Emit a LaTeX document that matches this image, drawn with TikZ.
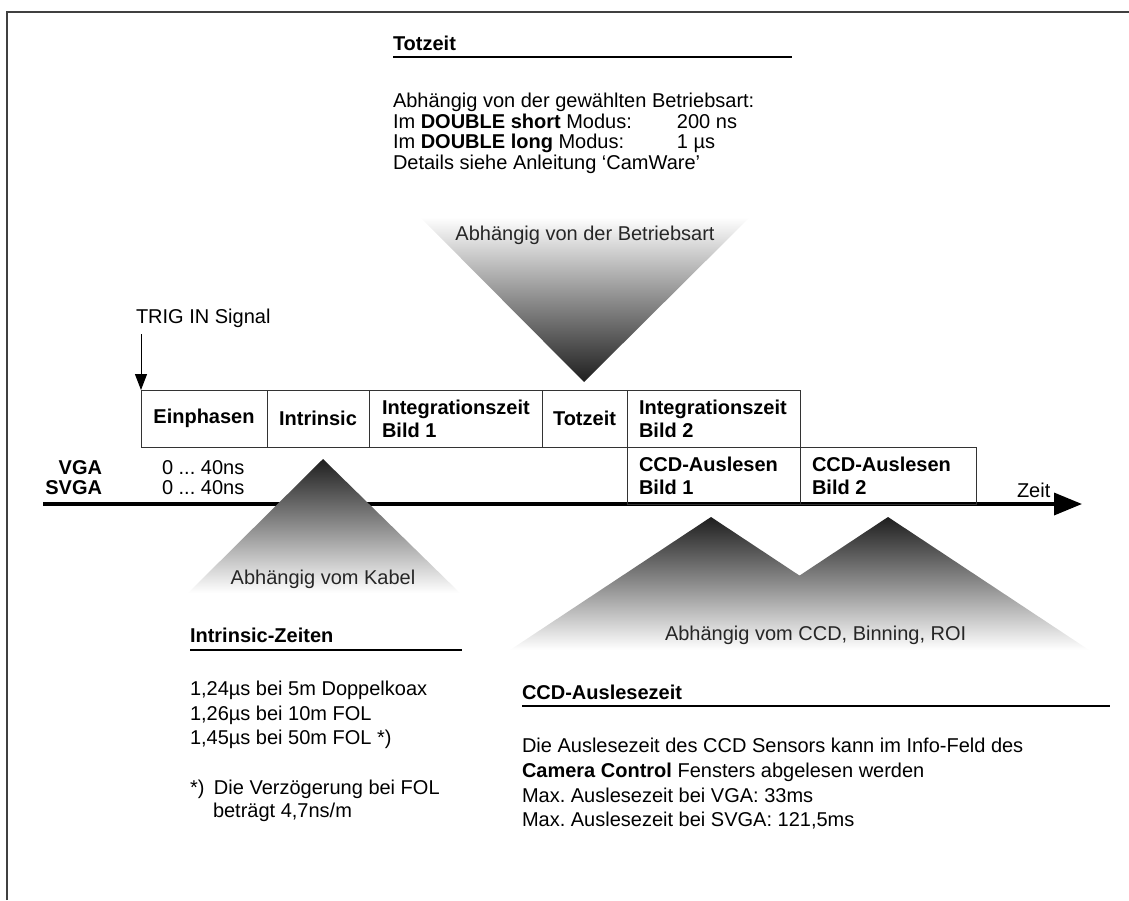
\documentclass[tikz,border=0pt]{standalone}
\usepackage{fontspec}
\setmainfont{Liberation Sans}
\usetikzlibrary{arrows.meta}
\frenchspacing
\begin{document}
\begin{tikzpicture}[x=1pt,y=-1pt,
  every node/.style={inner sep=0pt, outer sep=0pt, font=\fontsize{20}{24}\selectfont},
  txt/.style={anchor=base west},
  btxt/.style={anchor=base west, font=\fontsize{20}{24}\selectfont\bfseries},
  cell/.style={draw=black!80, line width=1pt, rectangle, minimum height=57pt},
  celltxt/.style={font=\fontsize{20}{23}\selectfont\bfseries, align=left, anchor=west},
  rulebar/.style={line width=2.5pt, black},
  framebar/.style={line width=2pt, black!75},
  trilabel/.style={anchor=base, text=black!85},
  upshade/.style={top color=black!88, bottom color=white, middle color=black!45},
  downshade/.style={top color=white, bottom color=black!88, middle color=black!45}
]
\useasboundingbox (0,0) rectangle (1129,900);

% frame
\draw[framebar] (7,900) -- (7,12) -- (1129,12);

% Totzeit block
\node[btxt] (tzhead) at (393,50) {Totzeit};
\draw[rulebar] (393,57) -- (792,57);
\node[txt] (tz1) at (393,107) {Abhängig von der gewählten Betriebsart:};
\node[txt] (tz2) at (393,128) {\makebox[284pt][l]{Im \textbf{DOUBLE short} Modus:}200 ns};
\node[txt] (tz3) at (393,148) {\makebox[284pt][l]{Im \textbf{DOUBLE long} Modus:}1 µs};
\node[txt] (tz4) at (393,169) {Details siehe Anleitung ‘CamWare’};

% top inverted triangle
\shade[downshade] (420,217) -- (750,217) -- (584,382) -- cycle;
\node[trilabel] (betr) at (585,240) {Abhängig von der Betriebsart};

% axis
\coordinate (axL) at (43,504);
\coordinate (axR) at (1082,504);
\draw[line width=3.5pt, -{Triangle[length=28pt,width=22pt]}] (axL) -- (axR);
\node[txt] (zeit) at (1017,497) {Zeit};

% boxes row 1
\node[cell, minimum width=126pt] (einph) at (204,418.5) {\bfseries Einphasen};
\node[cell, minimum width=102pt] (intr) at (318,418.5) {\bfseries Intrinsic};
\node[cell, minimum width=173pt] (int1) at (455.5,418.5) {};
\node[cell, minimum width=85pt] (totz) at (584.5,418.5) {\bfseries Totzeit};
\node[cell, minimum width=173pt] (int2) at (713.5,418.5) {};
% boxes row 2
\node[cell, minimum width=173pt] (ccd1) at (713.5,475.5) {};
\node[cell, minimum width=176pt] (ccd2) at (888,475.5) {};

\node[celltxt] (int1t) at ([xshift=13pt]int1.west) {Integrationszeit\\Bild 1};
\node[celltxt] (int2t) at ([xshift=12pt]int2.west) {Integrationszeit\\Bild 2};
\node[celltxt] (ccd1t) at ([xshift=12pt]ccd1.west) {CCD-Auslesen\\Bild 1};
\node[celltxt] (ccd2t) at ([xshift=12pt]ccd2.west) {CCD-Auslesen\\Bild 2};

% trigger
\node[txt] (trig) at (136,323) {TRIG IN Signal};
\coordinate (trigS) at (141,334);
\draw[line width=1pt, -{Triangle[length=16pt,width=12pt]}] (trigS) -- (einph.north west);

% VGA / SVGA
\node[anchor=base east, font=\fontsize{20}{24}\selectfont\bfseries] (vga) at (102,474) {VGA};
\node[anchor=base east, font=\fontsize{20}{24}\selectfont\bfseries] (svga) at (102,494) {SVGA};
\node[txt] (vgat) at (162,474) {0 ... 40ns};
\node[txt] (svgat) at (162,494) {0 ... 40ns};

% small triangle (cable)
\shade[upshade] (323,459) -- (460,593) -- (188,593) -- cycle;
\node[trilabel] (kabel) at (323,584) {Abhängig vom Kabel};

% CCD triangles
\shade[upshade] (711,517) -- (912,650) -- (510,650) -- cycle;
\shade[upshade] (888,517) -- (1089,650) -- (687,650) -- cycle;
\node[trilabel, anchor=base west] (ccdlab) at (665,640) {Abhängig vom CCD, Binning, ROI};

% Intrinsic block
\node[btxt] (inhead) at (190,642) {Intrinsic-Zeiten};
\draw[rulebar] (190,650) -- (462,650);
\node[txt] (in1) at (190,695) {1,24µs bei 5m Doppelkoax};
\node[txt] (in2) at (190,720) {1,26µs bei 10m FOL};
\node[txt] (in3) at (190,744) {1,45µs bei 50m FOL *)};
\node[txt] (in4) at (190,794) {\makebox[24pt][l]{*)}Die Verzögerung bei FOL};
\node[txt] (in5) at (213,817) {beträgt 4,7ns/m};

% CCD block
\node[btxt] (ccdhead) at (522,699) {CCD-Auslesezeit};
\draw[rulebar] (522,706) -- (1110,706);
\node[txt] (cc1) at (522,752) {Die Auslesezeit des CCD Sensors kann im Info-Feld des};
\node[txt] (cc2) at (522,777) {\textbf{Camera Control} Fensters abgelesen werden};
\node[txt] (cc3) at (522,802) {Max. Auslesezeit bei VGA: 33ms};
\node[txt] (cc4) at (522,826) {Max. Auslesezeit bei SVGA: 121,5ms};
\end{tikzpicture}
\end{document}
